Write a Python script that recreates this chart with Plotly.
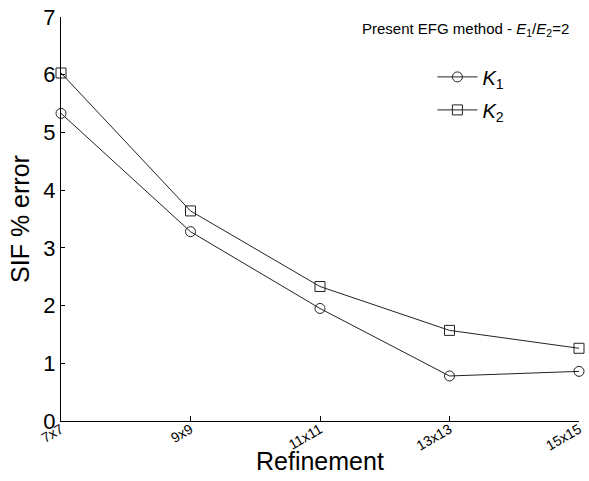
import plotly.graph_objects as go

refinement = ["7x7", "9x9", "11x11", "13x13", "15x15"]
k1_error = [5.33, 3.28, 1.95, 0.78, 0.86]
k2_error = [6.03, 3.64, 2.33, 1.57, 1.26]

font_family = "Arial, Liberation Sans, sans-serif"
line_color = "#222222"

fig = go.Figure()
fig.add_trace(go.Scatter(
    x=refinement, y=k1_error, mode="lines+markers",
    name="<i>K</i><sub>1</sub>", legendgroup="k1",
    line=dict(color=line_color, width=1),
    marker=dict(symbol="circle-open", size=10, color=line_color, line=dict(width=1)),
    cliponaxis=False,
))
fig.add_trace(go.Scatter(
    x=refinement, y=k2_error, mode="lines+markers",
    name="<i>K</i><sub>2</sub>", legendgroup="k2",
    line=dict(color=line_color, width=1),
    marker=dict(symbol="square-open", size=10, color=line_color, line=dict(width=1)),
    cliponaxis=False,
))

fig.update_layout(
    width=589, height=481,
    margin=dict(l=61, r=5, t=14, b=60),
    paper_bgcolor="white", plot_bgcolor="white",
    font=dict(family=font_family, color="black"),
    showlegend=True,
    legend=dict(
        x=0.717, y=0.90, xanchor="left", yanchor="top",
        bgcolor="rgba(0,0,0,0)", font=dict(size=20),
        itemwidth=40, tracegroupgap=4,
    ),
    annotations=[
        dict(
            text="Present EFG method - <i>E</i><sub>1</sub>/<i>E</i><sub>2</sub>=2",
            x=0.985, y=0.97, xref="paper", yref="paper",
            xanchor="right", yanchor="middle", showarrow=False,
            font=dict(size=15, family=font_family, color="black"),
        ),
        dict(
            text="Refinement",
            x=0.5, y=-0.1, xref="paper", yref="paper",
            xanchor="center", yanchor="middle", showarrow=False,
            font=dict(size=25, family=font_family, color="black"),
        ),
    ],
)

fig.update_xaxes(
    type="category", range=[0, 4],
    showline=True, linecolor="black", linewidth=1,
    ticks="inside", ticklen=5, tickcolor="black",
    tickangle=-30, tickfont=dict(size=14), ticklabelstandoff=-6,
    showgrid=False, zeroline=False,
)
fig.update_yaxes(
    range=[0, 7], dtick=1,
    showline=True, linecolor="black", linewidth=1,
    ticks="inside", ticklen=4, tickcolor="black",
    tickfont=dict(size=22),
    showgrid=False, zeroline=False,
    title=dict(text="SIF % error", font=dict(size=25), standoff=6),
)

fig.write_html("out.html")
